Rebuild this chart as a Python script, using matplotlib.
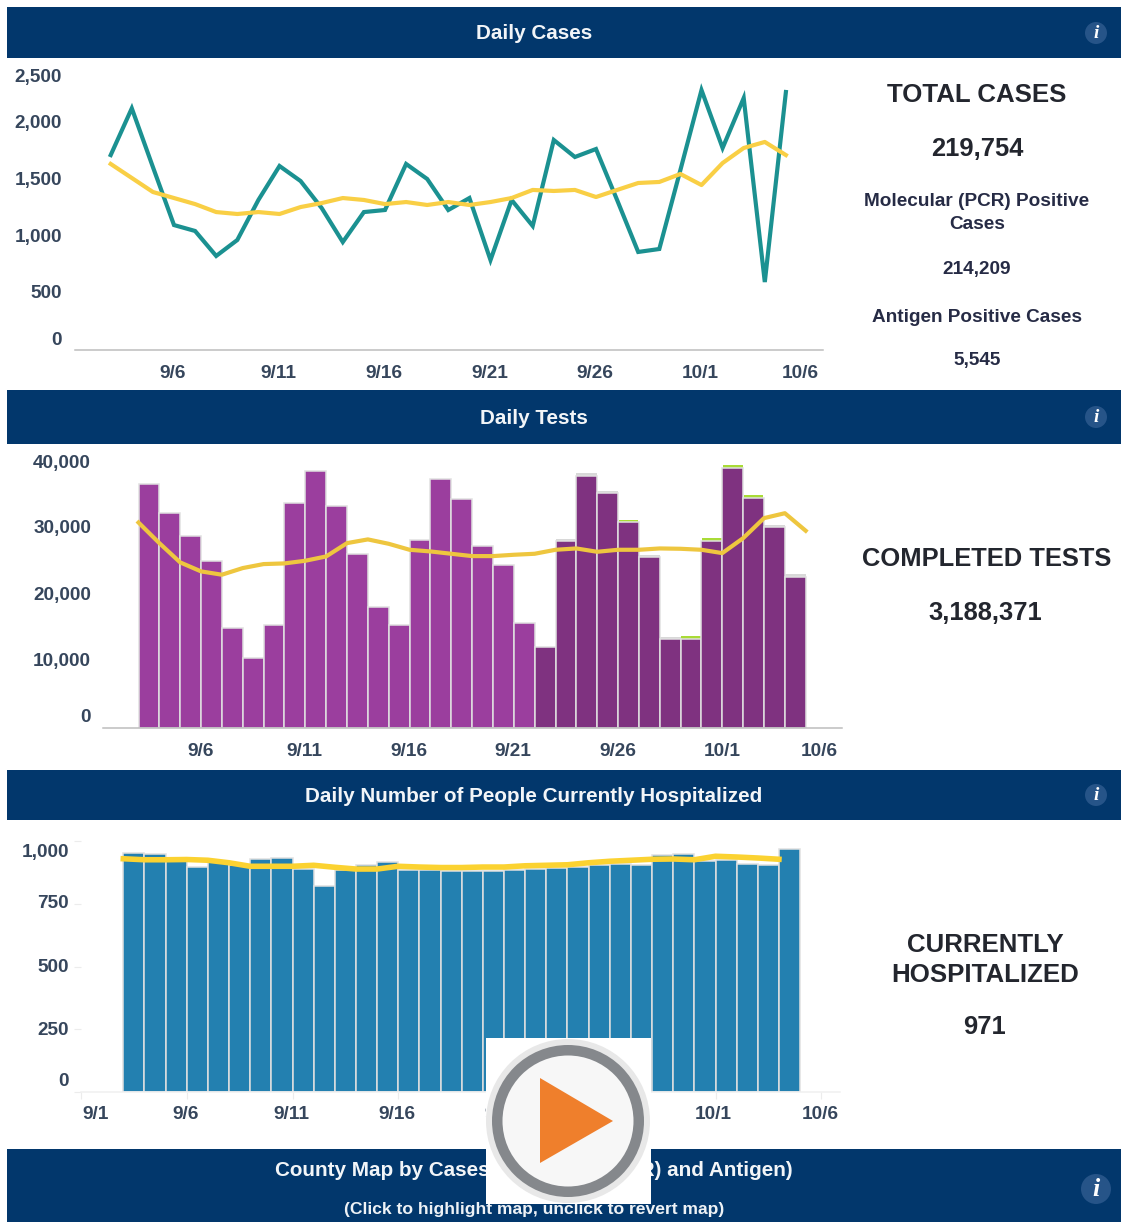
import numpy as np
import matplotlib
matplotlib.use('Agg')
import matplotlib.pyplot as plt
from matplotlib.patches import Rectangle, Circle, Polygon

plt.rcParams['font.family'] = ['Liberation Sans', 'DejaVu Sans']
plt.rcParams['font.weight'] = 'bold'

W, H = 1121, 1222

# daily cases, first point is 9/3
cases = [1710, 2120, 1605, 1096, 1044, 825, 965, 1316, 1614, 1482, 1245, 947, 1210, 1228, 1632, 1500, 1228,
         1333, 789, 1316, 1088, 1842, 1693, 1763, 1316, 860, 886, 1579, 2280, 1772, 2210, 596, 2263]
cases_avg = [1632, 1509, 1386, 1333, 1280, 1210, 1193, 1210, 1193, 1254, 1289, 1333, 1316, 1280, 1298, 1272, 1298,
             1272, 1298, 1333, 1404, 1395, 1404, 1342, 1404, 1465, 1474, 1544, 1447, 1640, 1772, 1825, 1710]

# daily tests, the darker bars start at index 19
tests = [36700, 32400, 28800, 25150, 15080, 10520, 15530, 33800, 38700, 33370, 26150, 18190, 15530, 28300, 37470, 34370,
         27400, 24450, 15830, 12170, 28050, 37930, 35270, 30960, 25650, 13380, 13380, 28050, 39130, 34570, 30210, 22750]
tests_grey = [0, 0, 0, 0, 0, 0, 0, 0, 0, 0, 0, 0, 0, 0, 0, 0,
              0, 0, 0, 0, 350, 350, 350, 0, 350, 350, 0, 0, 0, 0, 350, 350]
tests_green = [0, 0, 0, 0, 0, 0, 0, 0, 0, 0, 0, 0, 0, 0, 0, 0,
               0, 0, 0, 0, 0, 0, 0, 350, 0, 0, 500, 450, 450, 500, 0, 0]
tests_avg = [30900, 27800, 24900, 23550, 23050, 24050, 24650, 24750, 25150, 25800, 27800, 28360, 27700, 26800, 26550,
             26200, 25850, 25850, 26050, 26200, 26800, 27000, 26500, 26800, 26800, 27000, 26950, 26800, 26300, 28550,
             31560, 32300, 29660]

# hospitalized
hosp = [954, 947, 923, 897, 917, 904, 929, 935, 890, 820, 884, 904, 917, 886, 884, 881, 881,
        881, 884, 890, 893, 897, 904, 908, 904, 944, 950, 921, 924, 910, 904, 970]
hosp_avg = [930, 926, 926, 927, 924, 914, 900, 900, 900, 904, 896, 889, 889, 900, 897, 895, 895,
            897, 897, 902, 904, 906, 914, 920, 924, 928, 929, 926, 940, 937, 933, 928]

date_ticks = [5, 10, 15, 20, 25, 30, 35]
date_labels = ['9/6', '9/11', '9/16', '9/21', '9/26', '10/1', '10/6']

NAVY = '#02376C'
TEAL = '#1B9191'
YELLOW = '#F9CF45'
LABEL = '#36465C'
EDGE = '#E0E0E0'

fig = plt.figure(figsize=(W / 100, H / 100), dpi=100, facecolor='white')


def px_axes(left, top, right, bottom, z=1):
    ax = fig.add_axes([left / W, 1 - bottom / H, (right - left) / W, (bottom - top) / H], zorder=z)
    ax.patch.set_alpha(0)
    return ax


def chart_axes(left, top, right, bottom, x0, step, scale):
    # x0 = pixel of 9/1, step = pixels per day, scale = pixels per unit
    ax = px_axes(left, top, right, bottom)
    ax.set_xlim((left - x0) / step, (right - x0) / step)
    ax.set_ylim(0, (bottom - top) / scale)
    for s in ['top', 'left', 'right']:
        ax.spines[s].set_visible(False)
    ax.spines['bottom'].set_color('#BDBDBD')
    ax.spines['bottom'].set_linewidth(1.1)
    ax.set_xticks([])
    ax.set_yticks([])
    return ax


def y_labels(labels, xpx, ypx):
    # labels sit at fixed pixels, the top and bottom ones are pushed inside in the original
    for lab, yp in zip(labels, ypx):
        bg.text(xpx, yp + 1.5, lab, ha='right', va='center', fontsize=13.7, color=LABEL)


def x_labels(ticks, labels, ypx, x0, step, shift=None):
    shift = shift or {}
    for t, lab in zip(ticks, labels):
        bg.text(x0 + step * t + shift.get(lab, 0), ypx + 1.5, lab, ha='center', va='center',
                fontsize=13.7, color=LABEL)


# page background, banners and side text
bg = px_axes(0, 0, W, H, z=0)
bg.set_xlim(0, W)
bg.set_ylim(H, 0)
bg.axis('off')


def banner(top, bottom, title, ty, icon_y, icon_r=11):
    bg.add_patch(Rectangle((7, top), W - 7, bottom - top, color=NAVY, lw=0))
    if title:
        bg.text(534, ty + 1.5, title, ha='center', va='center', fontsize=14.9, color='#F2F5F8')
    bg.add_patch(Circle((1096, icon_y), icon_r, color='#265488', lw=0))
    bg.text(1096, icon_y, 'i', ha='center', va='center', color='white', fontsize=icon_r * 1.25,
            family='Liberation Serif', style='italic', weight='bold')


banner(7, 58, 'Daily Cases', 32, 33)
banner(390, 444, 'Daily Tests', 417, 417)
banner(770, 820, 'Daily Number of People Currently Hospitalized', 795, 795)
banner(1149, 1222, 'County Map by Cases (Molecular (PCR) and Antigen)', 1169, 1189, 15)
bg.text(534, 1209.5, '(Click to highlight map, unclick to revert map)', ha='center', va='center',
        fontsize=12.6, color='#EEF2F6')


def side(x, y, s, size, color='#23262E'):
    bg.text(x, y + 1.5, s, ha='center', va='center', fontsize=size, color=color)


side(977, 94, 'TOTAL CASES', 18.6)
side(977, 147, '219,754', 18.4)
side(977, 200, 'Molecular (PCR) Positive', 13.7, '#262B45')
side(977, 223, 'Cases', 13.7, '#262B45')
side(977, 268, '214,209', 13.7, '#262B45')
side(977, 316, 'Antigen Positive Cases', 13.7, '#262B45')
side(977, 359, '5,545', 13.7, '#262B45')
side(987, 558, 'COMPLETED TESTS', 18.4)
side(985, 612, '3,188,371', 18.4)
side(985, 943, 'CURRENTLY', 18.6)
side(985, 973, 'HOSPITALIZED', 18.6)
side(985, 1026, '971', 18.4)

# Daily Cases
ax1 = chart_axes(75, 62, 823, 350, 68.5, 21.1, 0.114)
xs = np.arange(len(cases)) + 2
ax1.plot(xs, cases, color=TEAL, lw=3, solid_joinstyle='miter')
ax1.plot(xs, cases_avg, color=YELLOW, lw=3)
y_labels(['0', '500', '1,000', '1,500', '2,000', '2,500'], 62, [339, 292, 236, 179, 122, 76])
x_labels(date_ticks, date_labels, 372, 67.5, 21.1, {'10/6': -6})

# Daily Tests
ax2 = chart_axes(103, 450, 842, 728, 96.8, 20.85, 0.00665)
xs = np.arange(len(tests)) + 2
tests = np.array(tests)
cols = ['#9B3E9E'] * 19 + ['#7F3280'] * (len(tests) - 19)
ax2.bar(xs, tests_grey, bottom=tests, width=1, align='edge', color='#D8D8D8', lw=0)
ax2.bar(xs + 0.03, tests_green, bottom=tests, width=0.94, align='edge', color='#A9DB37', lw=0)
ax2.bar(xs, tests, width=1, align='edge', color=cols, edgecolor=EDGE, lw=1.1)
ax2.plot(np.arange(len(tests_avg)) + 2, tests_avg, color='#EEC63F', lw=3, zorder=5)
y_labels(['0', '10,000', '20,000', '30,000', '40,000'], 91, [716, 660, 594, 527, 462])
x_labels(date_ticks, date_labels, 750, 96.3, 20.85, {'10/6': -6.5})

# Hospitalized
ax3 = chart_axes(81, 825, 840, 1092, 81, 21.15, 0.2508)
ax3.spines['bottom'].set_color('#F0F0F0')
xs = np.arange(len(hosp)) + 2
ax3.bar(xs, hosp, width=1, align='edge', color='#2380B0', edgecolor=EDGE, lw=1.1)
ax3.plot(xs, hosp_avg, color='#FBD231', lw=4, zorder=5)
ax3.set_xticks([0] + date_ticks)
ax3.set_xticklabels([])
ax3.set_yticks([0, 250, 500, 750, 1000])
ax3.set_yticklabels([])
ax3.tick_params(color='#ECECEC', length=5, width=0.8)
y_labels(['0', '250', '500', '750', '1,000'], 69, [1080, 1029, 966, 902, 851])
x_labels([0] + date_ticks, ['9/1'] + date_labels, 1113, 80.5, 21.1, {'9/1': 15, '10/6': 1})

# play button sitting over the chart
top = px_axes(0, 0, W, H, z=10)
top.set_xlim(0, W)
top.set_ylim(H, 0)
top.axis('off')
top.add_patch(Rectangle((486, 1038), 165, 166, color='white', lw=0))
top.add_patch(Circle((568, 1121), 82, color='#E8E8E8', lw=0))
top.add_patch(Circle((568, 1121), 76, color='#85888C', lw=0))
top.add_patch(Circle((568, 1121), 65.5, color='#F7F7F7', lw=0))
top.add_patch(Polygon([(540, 1078), (613, 1121), (540, 1163)], closed=True, color='#EF7F2C', lw=0))

fig.savefig('out.png', dpi=100)
